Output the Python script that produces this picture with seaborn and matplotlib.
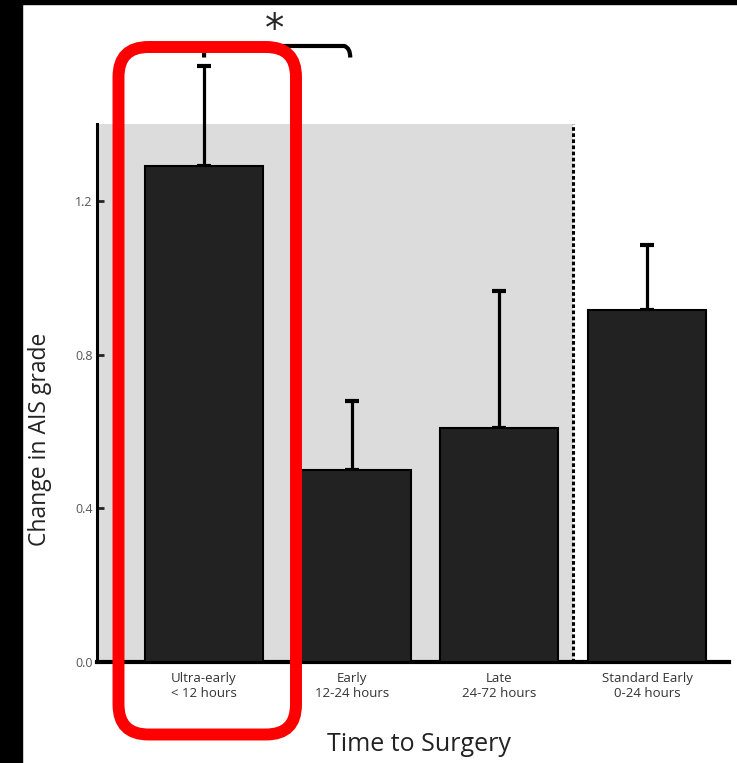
import matplotlib
matplotlib.use("Agg")
import matplotlib.pyplot as plt
from matplotlib.patches import FancyBboxPatch, Rectangle
from matplotlib.path import Path
from matplotlib.patches import PathPatch
import seaborn as sns
import numpy as np
import pandas as pd

# Change in AIS grade by time to surgery (mean with upper error)
categories = ["Ultra-early\n< 12 hours", "Early\n12-24 hours",
              "Late\n24-72 hours", "Standard Early\n0-24 hours"]
means = [1.29, 0.50, 0.61, 0.915]
upper_err = [0.26, 0.18, 0.355, 0.17]
y_ticks = [0.0, 0.4, 0.8, 1.2]
y_tick_labels = ["0.0", "0.4", "0.8", "1.2"]

sns.set_style("white")
plt.rcParams["font.family"] = ["Open Sans", "DejaVu Sans"]

W, H = 737, 763
fig = plt.figure(figsize=(W / 100, H / 100), dpi=100)
fig.patch.set_facecolor("white")
ax = fig.add_axes([97 / W, 1 - 662 / H, (729 - 97) / W, (662 - 124) / H])
ax.set_facecolor("white")

df = pd.DataFrame({"group": categories, "change": means})
xmin, xmax = -0.725, 3.555

# shaded comparison window and divider
ax.axvspan(xmin, 2.5, color="#dcdcdc", zorder=0, lw=0)
ax.axvline(2.5, color="black", lw=2.2, ls=(0, (1.2, 0.8)), zorder=1)

sns.barplot(data=df, x="group", y="change", order=categories, color="#222222",
            saturation=1, width=0.8, edgecolor="black", linewidth=1.5,
            errorbar=None, ax=ax, zorder=3)

x = np.arange(len(categories))
eb = ax.errorbar(x, means, yerr=[np.zeros(len(means)), upper_err], fmt="none",
                 ecolor="black", elinewidth=2.3, capsize=5, capthick=3, zorder=2)
for artist in eb.get_children():
    artist.set_clip_on(False)

# significance bracket between ultra-early and early
by, drop = 1.603, 0.03
verts = [(0, by - drop), (0, by), (0.95, by), (0.99, by - 0.005), (0.99, by - drop)]
codes = [Path.MOVETO, Path.LINETO, Path.LINETO, Path.CURVE3, Path.LINETO]
ax.add_patch(PathPatch(Path(verts, codes), fill=False, lw=3, color="black",
                       capstyle="butt", joinstyle="round", clip_on=False, zorder=4))
ax.text(0.48, 1.645, "*", ha="center", va="center", fontsize=28,
        family="DejaVu Sans", clip_on=False, zorder=4)

ax.set_xlim(xmin, xmax)
ax.set_ylim(0, 1.4)
ax.set_yticks(y_ticks)
ax.set_yticklabels(y_tick_labels, fontsize=9, color="#555555")
ax.tick_params(axis="y", direction="in", length=5, width=2, pad=3, left=True)
ax.tick_params(axis="x", length=0, pad=7, labelsize=9.5, labelcolor="#333333")

for s in ["top", "right"]:
    ax.spines[s].set_visible(False)
ax.spines["left"].set_linewidth(2.2)
ax.spines["bottom"].set_linewidth(3)
ax.spines["left"].set_color("black")
ax.spines["bottom"].set_color("black")

ax.set_xlabel("Time to Surgery", fontsize=18, color="#222222")
ax.set_ylabel("Change in AIS grade", fontsize=16.5, color="#222222")
ax.xaxis.set_label_coords(0.509, -0.131)
ax.yaxis.set_label_coords(-0.071, 0.414)

# highlight box around the ultra-early group
box = FancyBboxPatch((118.5 / 100, (H - 734.5) / 100), 177.5 / 100, 687.5 / 100,
                     boxstyle="round,pad=0,rounding_size=0.3",
                     transform=fig.dpi_scale_trans, fill=False,
                     edgecolor="#ff0000", lw=8.6, zorder=10)
fig.patches.append(box)

# dark frame edges
fig.patches.append(Rectangle((0, 0), 22 / W, 1, transform=fig.transFigure,
                             color="black", zorder=11))
fig.patches.append(Rectangle((0, 1 - 4 / H), 1, 4 / H, transform=fig.transFigure,
                             color="black", zorder=11))

fig.savefig("out.png", dpi=100)
